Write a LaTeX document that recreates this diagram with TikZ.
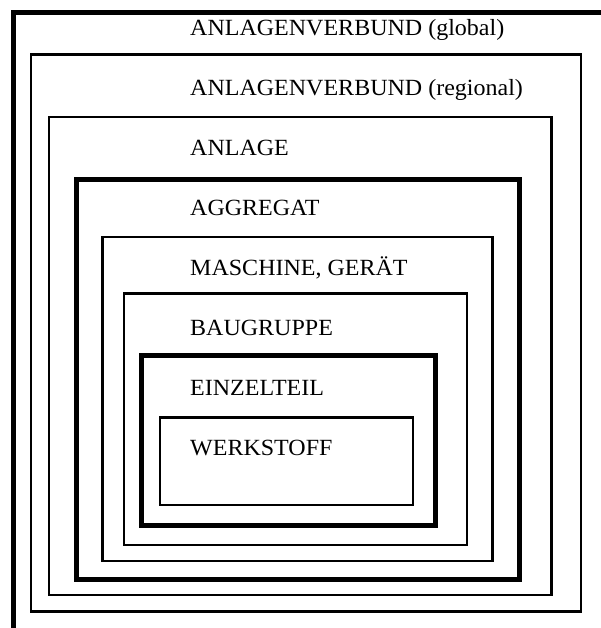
\documentclass[tikz,border=0pt]{standalone}
\usepackage{fontspec}
\setmainfont{Liberation Serif}[FakeStretch=1.035]
\begin{document}
\begin{tikzpicture}[x=1pt,y=-1pt,
  thinbox/.style={draw=black,line width=2.2pt},
  thickbox/.style={draw=black,line width=5pt},
  lbl/.style={anchor=base west,inner sep=0pt,font=\fontsize{23.2}{27}\selectfont}]
\useasboundingbox (0,0) rectangle (601,628);
\clip (0,0) rectangle (601,628);
\fill[white] (0,0) rectangle (601,628);
% outer (cropped) frame
\draw[thickbox] (13.5,660) -- (13.5,12.5) -- (640,12.5);
\draw[thinbox] (31,54.5) rectangle (581,611.5);
\draw[thinbox] (49,117) rectangle (551.5,595);
\draw[thickbox] (76,180) rectangle (519,579);
\draw[thinbox] (102.5,237) rectangle (492.5,561);
\draw[thinbox] (124,293.5) rectangle (467,545);
\draw[thickbox] (141,355) rectangle (435,525);
\draw[thinbox] (160,417.5) rectangle (413,505);
\node[lbl] (t1) at (190,36) {ANLAGENVERBUND (global)};
\node[lbl] (t2) at (190,95.9) {ANLAGENVERBUND (regional)};
\node[lbl] (t3) at (190,155.7) {ANLAGE};
\node[lbl] (t4) at (190,215.6) {AGGREGAT};
\node[lbl] (t5) at (190,275.4) {MASCHINE, GERÄT};
\node[lbl] (t6) at (190,335.3) {BAUGRUPPE};
\node[lbl] (t7) at (190,395.2) {EINZELTEIL};
\node[lbl] (t8) at (190,455) {WERKSTOFF};
\end{tikzpicture}
\end{document}
